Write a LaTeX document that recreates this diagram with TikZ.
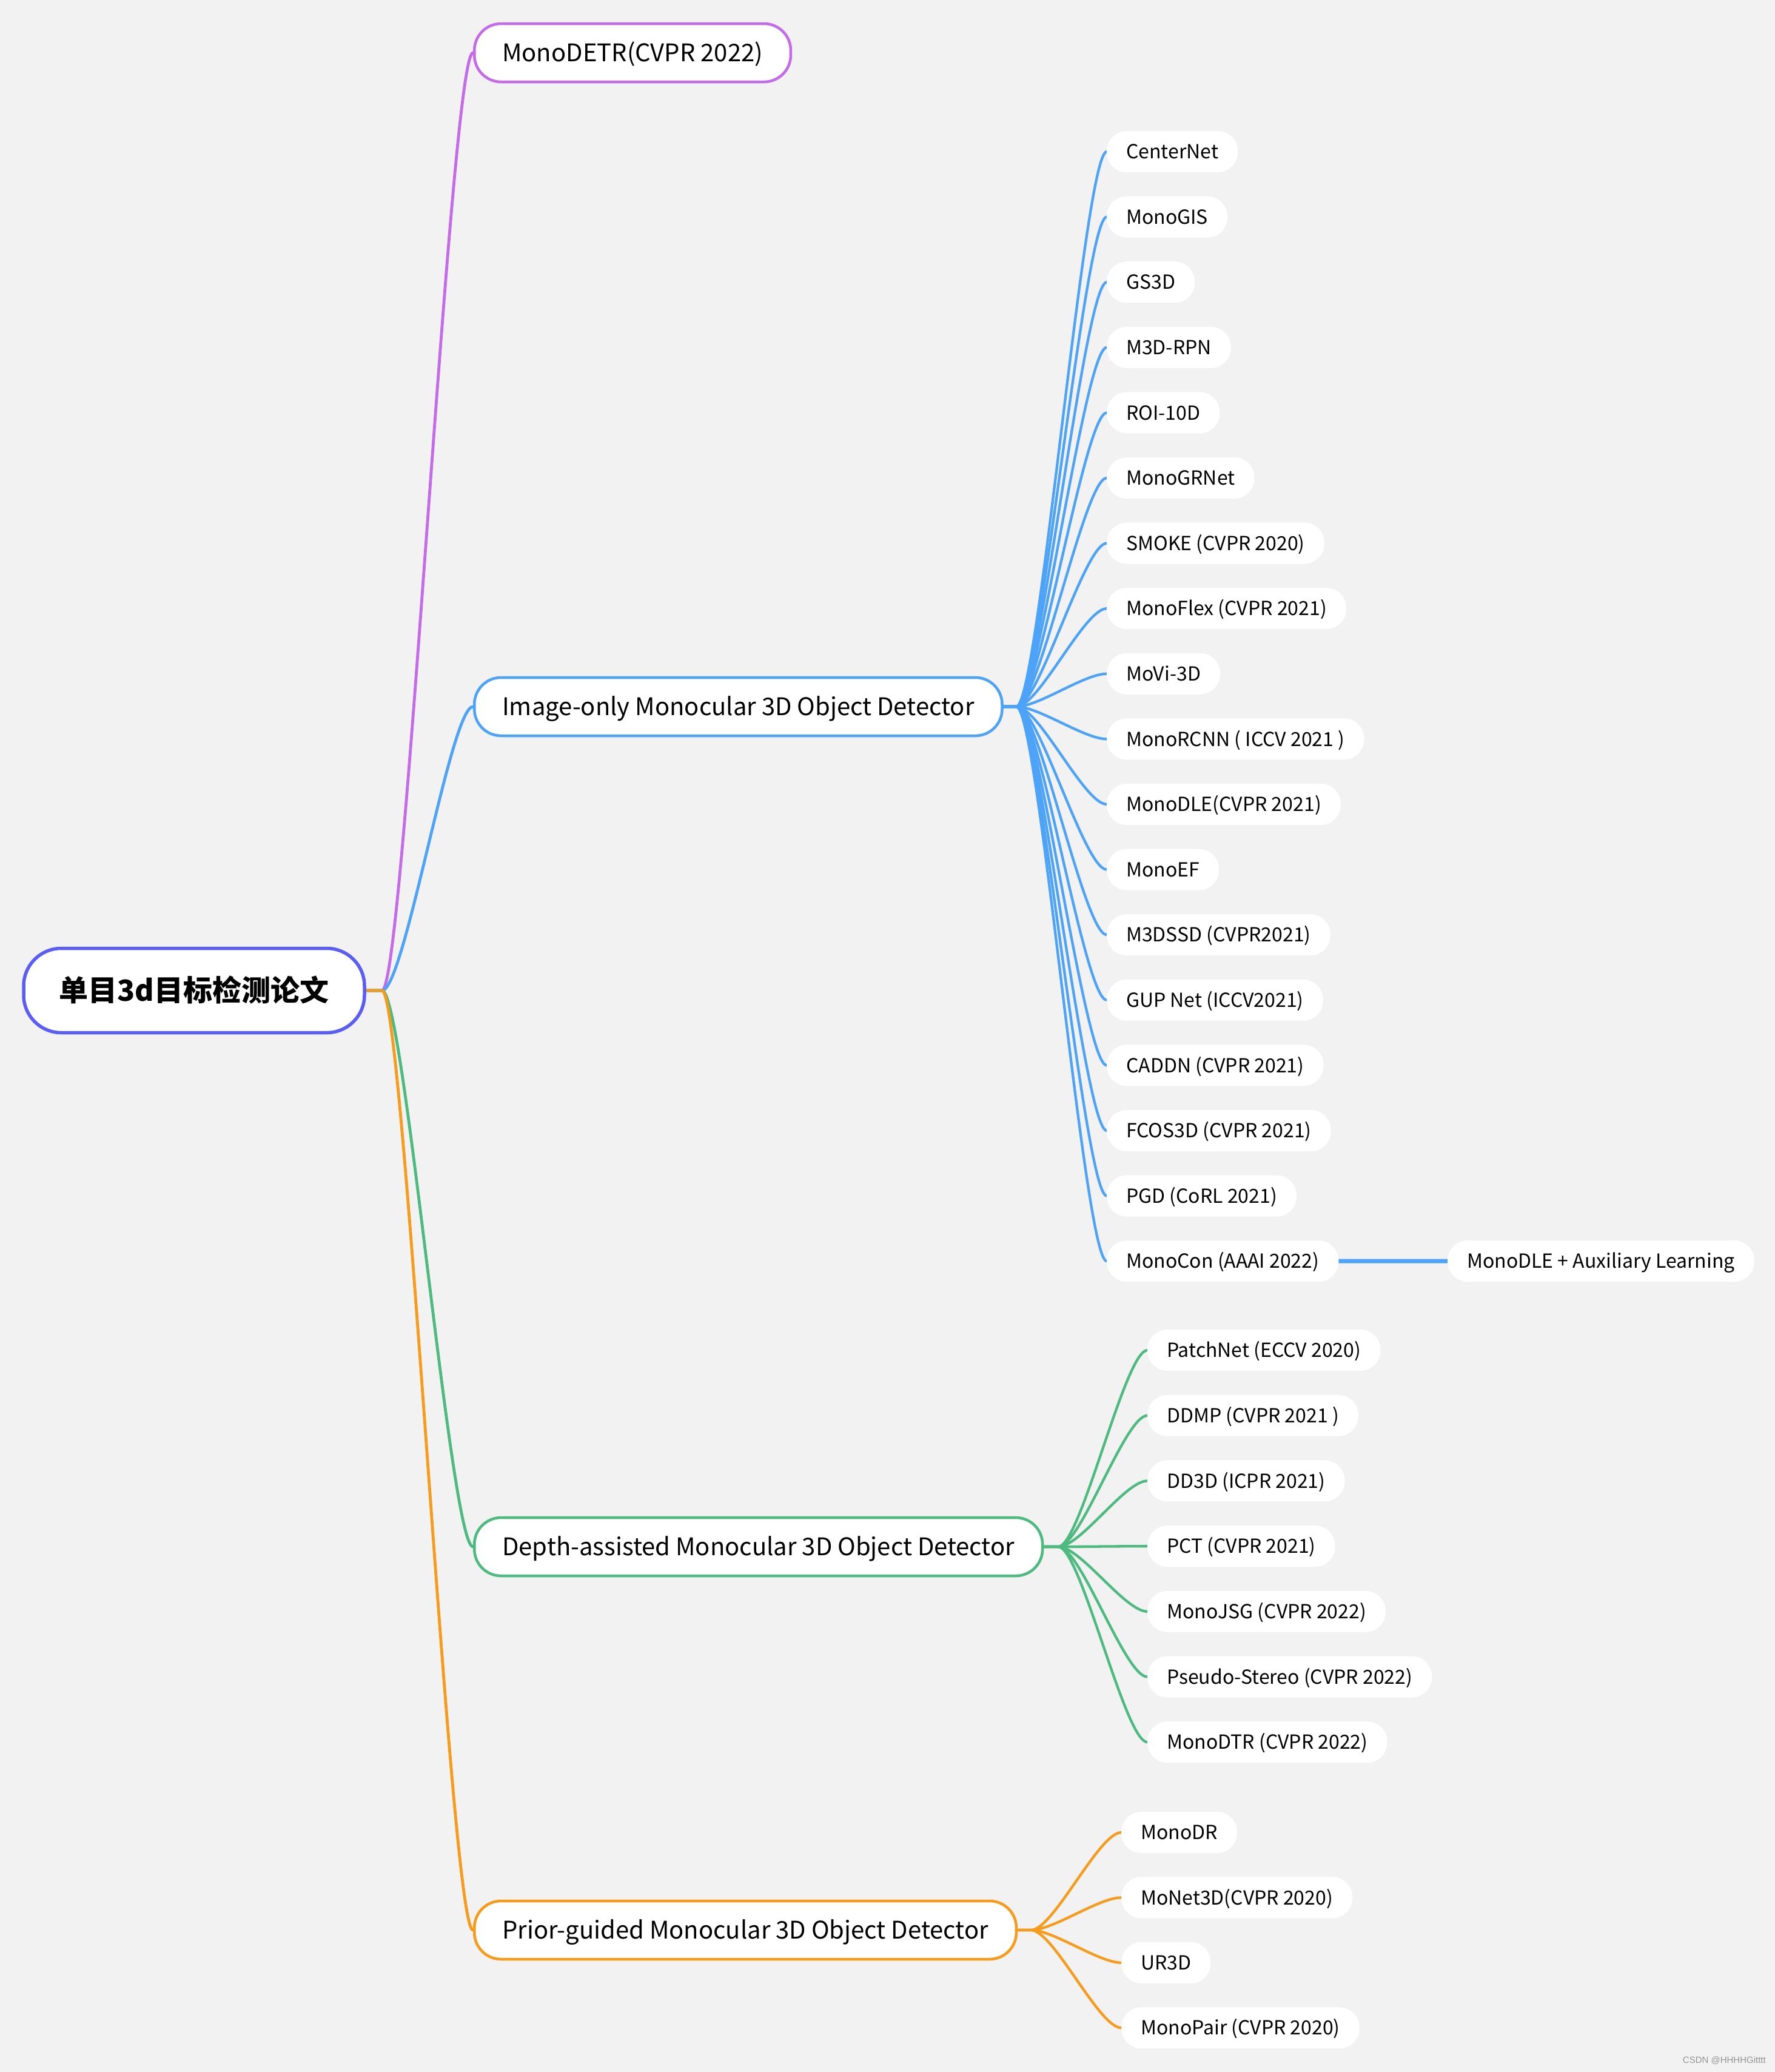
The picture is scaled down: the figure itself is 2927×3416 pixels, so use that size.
\documentclass[tikz,border=0pt]{standalone}
\usepackage{fontspec}
\setmainfont{Noto Sans CJK SC}
\newfontfamily\wmfont{Liberation Sans}
\pgfdeclarelayer{bg}
\pgfsetlayers{bg,main}
\definecolor{cpurple}{HTML}{C36BE8}
\definecolor{cblue}{HTML}{4DA3F7}
\definecolor{cgreen}{HTML}{4DBA7F}
\definecolor{corange}{HTML}{F79B1C}
\definecolor{croot}{HTML}{5B5EF6}
\definecolor{cbg}{HTML}{F2F2F2}
\tikzset{
  rootbox/.style={draw=croot, line width=5.5pt, fill=white, rounded corners=62pt,
    minimum width=562pt, minimum height=139pt, inner sep=0pt,
    font=\fontsize{48}{56}\selectfont\bfseries, text height=42pt, text depth=8pt},
  mainbox/.style={line width=4.5pt, fill=white, rounded corners=44pt, anchor=west,
    minimum height=96pt, inner xsep=46pt, inner ysep=0pt,
    font=\fontsize{40}{46}\selectfont, text height=38pt, text depth=8.7pt},
  leafbox/.style={fill=white, rounded corners=33pt, anchor=west,
    minimum height=68pt, inner xsep=32pt, inner ysep=0pt,
    font=\fontsize{32}{38}\selectfont, text height=30pt, text depth=6.5pt},
  conn/.style={line width=4.8pt, line cap=round},
  leafconn/.style={line width=4.3pt, line cap=round},
}
\begin{document}
\begin{tikzpicture}[x=1pt,y=-1pt]
\useasboundingbox (0,0) rectangle (2927,3416);
\begin{pgfonlayer}{bg}
\fill[cbg] (0,0) rectangle (2927,3416);
\end{pgfonlayer}

% root and main branches
\node[rootbox] (root) at (320,1633) {单目3d目标检测论文};
\node[mainbox, draw=cpurple] (m1) at (780,87) {MonoDETR(CVPR 2022)};
\node[mainbox, draw=cblue] (m2) at (780,1165) {Image-only Monocular 3D Object Detector};
\node[mainbox, draw=cgreen] (m3) at (780,2550) {Depth-assisted Monocular 3D Object Detector};
\node[mainbox, draw=corange] (m4) at (780,3182) {Prior-guided Monocular 3D Object Detector};

\coordinate (j0) at (630,1633);
\coordinate (j2) at (1676,1165);
\coordinate (j3) at (1745,2550);
\coordinate (j4) at (1700,3182);

% blue leaves
\foreach \t [count=\i] in {{CenterNet},{MonoGIS},{GS3D},{M3D-RPN},{ROI-10D},{MonoGRNet},
  {SMOKE (CVPR 2020)},{MonoFlex (CVPR 2021)},{MoVi-3D},{MonoRCNN ( ICCV 2021 )},
  {MonoDLE(CVPR 2021)},{MonoEF},{M3DSSD (CVPR2021)},{GUP Net (ICCV2021)},
  {CADDN (CVPR 2021)},{FCOS3D (CVPR 2021)},{PGD (CoRL 2021)},{MonoCon (AAAI 2022)}}
  \node[leafbox] (b\i) at (1825,{250+(\i-1)*107.6}) {\t};
\node[leafbox] (aux) at (2387,2079) {MonoDLE + Auxiliary Learning};

% green leaves
\foreach \t [count=\i] in {{PatchNet (ECCV 2020)},{DDMP (CVPR 2021 )},{DD3D (ICPR 2021)},
  {PCT (CVPR 2021)},{MonoJSG (CVPR 2022)},{Pseudo-Stereo (CVPR 2022)},{MonoDTR (CVPR 2022)}}
  \node[leafbox] (g\i) at (1892,{2226+(\i-1)*107.7}) {\t};

% orange leaves
\foreach \t [count=\i] in {{MonoDR},{MoNet3D(CVPR 2020)},{UR3D},{MonoPair (CVPR 2020)}}
  \node[leafbox] (o\i) at (1849,{3021+(\i-1)*107.4}) {\t};

\node[font=\wmfont\fontsize{15}{18}\selectfont, text=black!42, anchor=east, inner sep=0pt] (wm) at (2912,3397) {CSDN @HHHHGitttt};

\begin{pgfonlayer}{bg}
\draw[conn, cpurple] (root.east) -- (j0) .. controls +(37,0) and +(-37,0) .. (m1.west);
\draw[conn, cblue] (root.east) -- (j0) .. controls +(37,0) and +(-37,0) .. (m2.west);
\draw[conn, cgreen] (root.east) -- (j0) .. controls +(37,0) and +(-37,0) .. (m3.west);
\draw[conn, corange] (root.east) -- (j0) .. controls +(37,0) and +(-37,0) .. (m4.west);
\foreach \i in {1,...,18}
  \draw[leafconn, cblue] (m2.east) -- (j2) .. controls +(37,0) and +(-37,0) .. (b\i.west);
\draw[line width=7pt, cblue] (b18.east) -- (aux.west);
\foreach \i in {1,...,7}
  \draw[leafconn, cgreen] (m3.east) -- (j3) .. controls +(37,0) and +(-37,0) .. (g\i.west);
\foreach \i in {1,...,4}
  \draw[leafconn, corange] (m4.east) -- (j4) .. controls +(37,0) and +(-37,0) .. (o\i.west);
\end{pgfonlayer}
\end{tikzpicture}
\end{document}
